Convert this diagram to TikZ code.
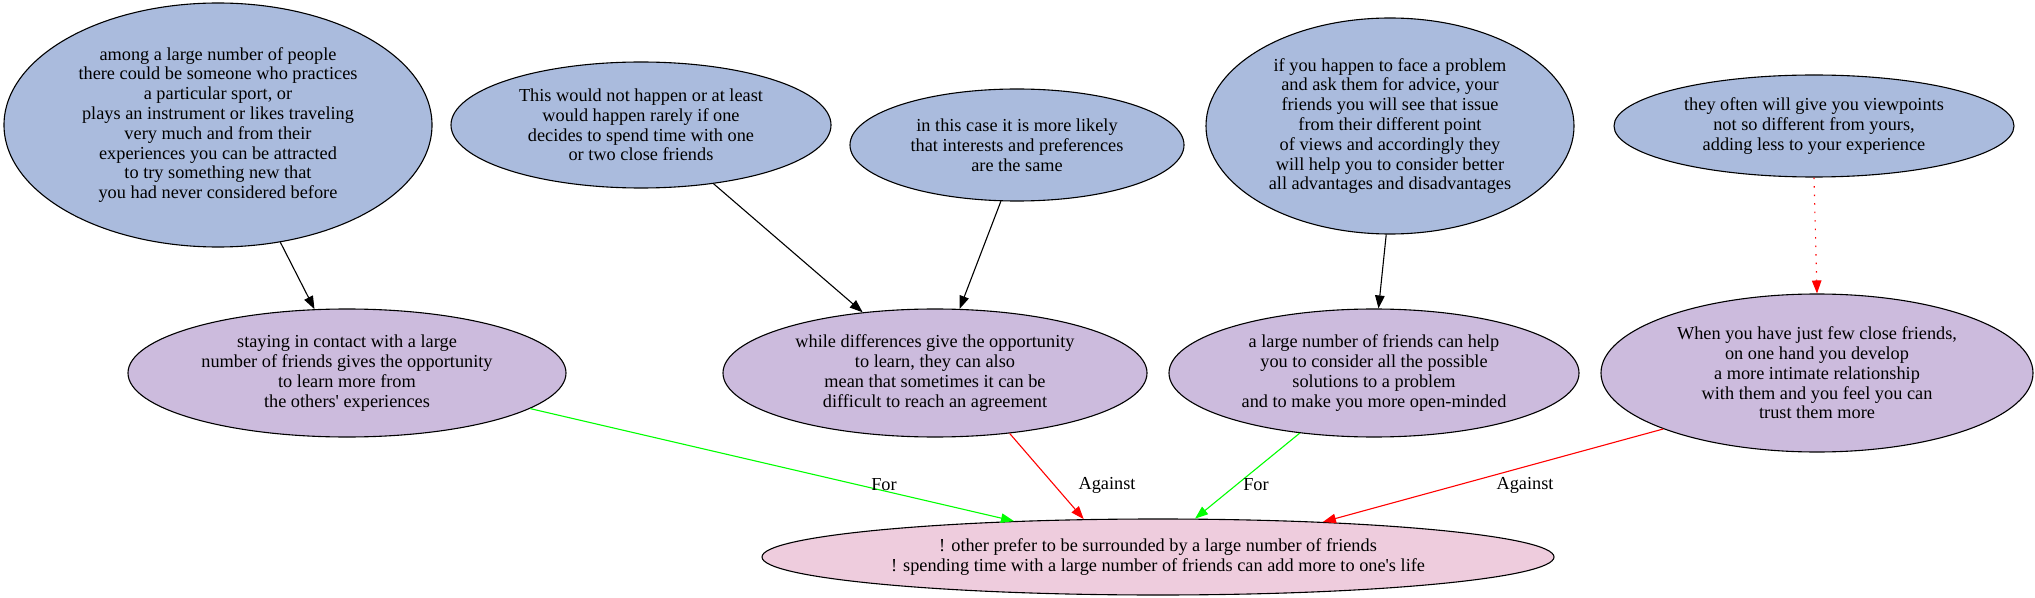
\documentclass[tikz,border=0pt]{standalone}
\usepackage{fontspec}
\setmainfont{Liberation Serif}
\newfontfamily\gvfont{Liberation Serif}
\usetikzlibrary{shapes.geometric,arrows.meta}
\definecolor{topfill}{HTML}{AABBDD}
\definecolor{midfill}{HTML}{CCBBDD}
\definecolor{botfill}{HTML}{EECCDD}
\definecolor{forgreen}{HTML}{00FF00}
\definecolor{againstred}{HTML}{FF0000}
\begin{document}
\begin{tikzpicture}[x=1bp,y=-1bp,
  txt/.style={font=\gvfont\fontsize{18.3bp}{19.8bp}\selectfont},
  claim/.style={ellipse,draw=black,line width=1.1bp,inner sep=0pt,align=center,txt},
  premise/.style={claim,fill=topfill},
  midclaim/.style={claim,fill=midfill},
  issue/.style={claim,fill=botfill},
  conn/.style={line width=1.1bp,-{Triangle[length=13bp,width=9.5bp]}},
  lbl/.style={txt,inner sep=0pt}]
\useasboundingbox (0,0) rectangle (2035,598);

\node[premise,minimum width=428bp,minimum height=244bp] (A) at (218,125)
  {among a large number of people\\there could be someone who practices\\a particular sport, or\\plays an instrument or likes traveling\\very much and from their\\experiences you can be attracted\\to try something new that\\you had never considered before};
\node[premise,minimum width=380bp,minimum height=126bp] (B) at (641,125)
  {This would not happen or at least\\would happen rarely if one\\decides to spend time with one\\or two close friends};
\node[premise,minimum width=334bp,minimum height=112bp] (C) at (1017,145)
  {in this case it is more likely\\that interests and preferences\\are the same};
\node[premise,minimum width=368bp,minimum height=216bp] (D) at (1390,126)
  {if you happen to face a problem\\and ask them for advice, your\\friends you will see that issue\\from their different point\\of views and accordingly they\\will help you to consider better\\all advantages and disadvantages};
\node[premise,minimum width=400bp,minimum height=102bp] (E) at (1814,126)
  {they often will give you viewpoints\\not so different from yours,\\adding less to your experience};

\node[midclaim,minimum width=438bp,minimum height=128bp] (F) at (347,373)
  {staying in contact with a large\\number of friends gives the opportunity\\to learn more from\\the others' experiences};
\node[midclaim,minimum width=424bp,minimum height=128bp] (G) at (935,373)
  {while differences give the opportunity\\to learn, they can also\\mean that sometimes it can be\\difficult to reach an agreement};
\node[midclaim,minimum width=410bp,minimum height=128bp] (H) at (1374,373)
  {a large number of friends can help\\you to consider all the possible\\solutions to a problem\\and to make you more open-minded};
\node[midclaim,minimum width=432bp,minimum height=158bp] (I) at (1817,373)
  {When you have just few close friends,\\on one hand you develop\\a more intimate relationship\\with them and you feel you can\\trust them more};

\node[issue,minimum width=792bp,minimum height=76bp] (J) at (1158,557)
  {! other prefer to be surrounded by a large number of friends\\! spending time with a large number of friends can add more to one's life};

\draw[conn] (A.-62) -- (F.117);
\draw[conn] (B.-39) -- (G.140);
\draw[conn] (C.-106) -- (G.69);
\draw[conn] (D.-92) -- (H.86);
\draw[conn,againstred,dash pattern=on 1.5bp off 7bp] (E.south) -- (I.north);

\draw[conn,forgreen] (F.-11.6) -- (J.166.8);
\draw[conn,againstred] (G.-39.5) -- (J.153.2);
\draw[conn,forgreen] (H.-141.5) -- (J.46.4);
\draw[conn,againstred] (I.-160.7) -- (J.12.3);

\node[lbl] (l1) at (884,485) {For};
\node[lbl] (l2) at (1107,485) {Against};
\node[lbl] (l3) at (1256,485) {For};
\node[lbl] (l4) at (1525,485) {Against};
\end{tikzpicture}
\end{document}
